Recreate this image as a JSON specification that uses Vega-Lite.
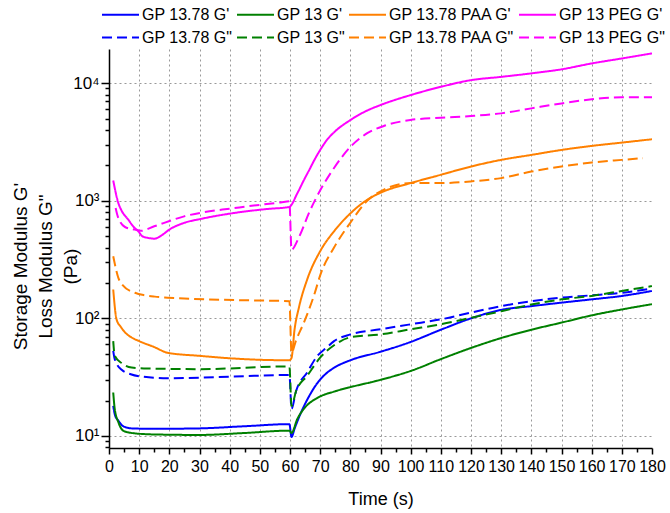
{
  "$schema": "https://vega.github.io/schema/vega-lite/v6.json",
  "autosize": {"type": "none"},
  "padding": {"left": 109, "top": 49, "right": 18, "bottom": 65},
  "width": 543,
  "height": 399,
  "background": "white",
  "config": {
    "font": "Liberation Sans",
    "view": {"stroke": null},
    "axis": {"domainColor": "black", "domainWidth": 1.5, "tickColor": "black", "tickWidth": 1.5, "labelColor": "black", "titleColor": "black", "labelFont": "Liberation Sans", "titleFont": "Liberation Sans", "titleFontWeight": "normal", "gridColor": "#999999", "gridDash": [2, 3], "gridWidth": 1, "labelOverlap": false, "labelFlush": false},
    "legend": {"title": null, "orient": "none", "legendX": 1, "legendY": -45, "columns": 4, "direction": "horizontal", "symbolType": "M-2,0H2", "symbolSize": 342, "symbolStrokeWidth": 2, "symbolFillColor": "transparent", "labelFontSize": 16, "labelLimit": 0, "labelOffset": 11, "columnPadding": 0, "rowPadding": 4, "padding": 0, "labelColor": "black", "labelFont": "Liberation Sans"}
  },
  "data": {"values": [
    {"s": "GP 13.78 G'", "t": 1.4, "v": 18}, {"s": "GP 13.78 G'", "t": 2, "v": 15}, {"s": "GP 13.78 G'", "t": 3.1, "v": 13.5}, {"s": "GP 13.78 G'", "t": 4.7, "v": 12.1}, {"s": "GP 13.78 G'", "t": 7.5, "v": 11.6}, {"s": "GP 13.78 G'", "t": 15, "v": 11.5}, {"s": "GP 13.78 G'", "t": 30, "v": 11.6}, {"s": "GP 13.78 G'", "t": 45, "v": 12.1}, {"s": "GP 13.78 G'", "t": 59.8, "v": 12.6}, {"s": "GP 13.78 G'", "t": 60.5, "v": 9.8}, {"s": "GP 13.78 G'", "t": 61.5, "v": 11.5}, {"s": "GP 13.78 G'", "t": 63.5, "v": 15.5}, {"s": "GP 13.78 G'", "t": 66, "v": 21}, {"s": "GP 13.78 G'", "t": 69, "v": 28}, {"s": "GP 13.78 G'", "t": 72, "v": 34}, {"s": "GP 13.78 G'", "t": 74.6, "v": 38}, {"s": "GP 13.78 G'", "t": 80, "v": 44}, {"s": "GP 13.78 G'", "t": 90, "v": 52}, {"s": "GP 13.78 G'", "t": 100, "v": 63}, {"s": "GP 13.78 G'", "t": 110, "v": 80}, {"s": "GP 13.78 G'", "t": 120, "v": 100}, {"s": "GP 13.78 G'", "t": 130, "v": 118}, {"s": "GP 13.78 G'", "t": 140, "v": 127}, {"s": "GP 13.78 G'", "t": 150, "v": 136}, {"s": "GP 13.78 G'", "t": 160, "v": 145}, {"s": "GP 13.78 G'", "t": 170, "v": 155}, {"s": "GP 13.78 G'", "t": 180, "v": 171},

    {"s": "GP 13 G'", "t": 1.4, "v": 23.4}, {"s": "GP 13 G'", "t": 1.9, "v": 17}, {"s": "GP 13 G'", "t": 3.1, "v": 13.1}, {"s": "GP 13 G'", "t": 4.7, "v": 11.1}, {"s": "GP 13 G'", "t": 7.5, "v": 10.6}, {"s": "GP 13 G'", "t": 15, "v": 10.3}, {"s": "GP 13 G'", "t": 30, "v": 10.2}, {"s": "GP 13 G'", "t": 45, "v": 10.6}, {"s": "GP 13 G'", "t": 59.8, "v": 11.1}, {"s": "GP 13 G'", "t": 60.5, "v": 10.6}, {"s": "GP 13 G'", "t": 62.4, "v": 13.9}, {"s": "GP 13 G'", "t": 65, "v": 17.5}, {"s": "GP 13 G'", "t": 69, "v": 21}, {"s": "GP 13 G'", "t": 75, "v": 24}, {"s": "GP 13 G'", "t": 80, "v": 26}, {"s": "GP 13 G'", "t": 90, "v": 30}, {"s": "GP 13 G'", "t": 100, "v": 35.7}, {"s": "GP 13 G'", "t": 110, "v": 45}, {"s": "GP 13 G'", "t": 120, "v": 56}, {"s": "GP 13 G'", "t": 130, "v": 68}, {"s": "GP 13 G'", "t": 140, "v": 80}, {"s": "GP 13 G'", "t": 150, "v": 92}, {"s": "GP 13 G'", "t": 160, "v": 106}, {"s": "GP 13 G'", "t": 170, "v": 119}, {"s": "GP 13 G'", "t": 180, "v": 132},

    {"s": "GP 13.78 PAA G'", "t": 1.4, "v": 176}, {"s": "GP 13.78 PAA G'", "t": 2.5, "v": 98}, {"s": "GP 13.78 PAA G'", "t": 4, "v": 84}, {"s": "GP 13.78 PAA G'", "t": 5.3, "v": 76}, {"s": "GP 13.78 PAA G'", "t": 7, "v": 70}, {"s": "GP 13.78 PAA G'", "t": 10, "v": 64}, {"s": "GP 13.78 PAA G'", "t": 15, "v": 57}, {"s": "GP 13.78 PAA G'", "t": 19.4, "v": 51}, {"s": "GP 13.78 PAA G'", "t": 30, "v": 48}, {"s": "GP 13.78 PAA G'", "t": 41.5, "v": 45.5}, {"s": "GP 13.78 PAA G'", "t": 59.8, "v": 44}, {"s": "GP 13.78 PAA G'", "t": 60.5, "v": 46}, {"s": "GP 13.78 PAA G'", "t": 61.5, "v": 80}, {"s": "GP 13.78 PAA G'", "t": 63, "v": 125}, {"s": "GP 13.78 PAA G'", "t": 65.7, "v": 214}, {"s": "GP 13.78 PAA G'", "t": 70.2, "v": 380}, {"s": "GP 13.78 PAA G'", "t": 74.6, "v": 550}, {"s": "GP 13.78 PAA G'", "t": 80, "v": 780}, {"s": "GP 13.78 PAA G'", "t": 85.6, "v": 1019}, {"s": "GP 13.78 PAA G'", "t": 91, "v": 1199}, {"s": "GP 13.78 PAA G'", "t": 100, "v": 1413}, {"s": "GP 13.78 PAA G'", "t": 110, "v": 1662}, {"s": "GP 13.78 PAA G'", "t": 120, "v": 1953}, {"s": "GP 13.78 PAA G'", "t": 130, "v": 2225}, {"s": "GP 13.78 PAA G'", "t": 140, "v": 2452}, {"s": "GP 13.78 PAA G'", "t": 150, "v": 2703}, {"s": "GP 13.78 PAA G'", "t": 160, "v": 2924}, {"s": "GP 13.78 PAA G'", "t": 170, "v": 3120}, {"s": "GP 13.78 PAA G'", "t": 180, "v": 3333},

    {"s": "GP 13 PEG G'", "t": 1.4, "v": 1486}, {"s": "GP 13 PEG G'", "t": 3.1, "v": 955}, {"s": "GP 13 PEG G'", "t": 4, "v": 840}, {"s": "GP 13 PEG G'", "t": 6.4, "v": 690}, {"s": "GP 13 PEG G'", "t": 8, "v": 606}, {"s": "GP 13 PEG G'", "t": 9.7, "v": 550}, {"s": "GP 13 PEG G'", "t": 11.1, "v": 498}, {"s": "GP 13 PEG G'", "t": 13, "v": 483}, {"s": "GP 13 PEG G'", "t": 15, "v": 476}, {"s": "GP 13 PEG G'", "t": 16.5, "v": 490}, {"s": "GP 13 PEG G'", "t": 17.8, "v": 515}, {"s": "GP 13 PEG G'", "t": 20, "v": 568}, {"s": "GP 13 PEG G'", "t": 24.9, "v": 648}, {"s": "GP 13 PEG G'", "t": 30.4, "v": 700}, {"s": "GP 13 PEG G'", "t": 41.5, "v": 787}, {"s": "GP 13 PEG G'", "t": 52.5, "v": 851}, {"s": "GP 13 PEG G'", "t": 59.8, "v": 885}, {"s": "GP 13 PEG G'", "t": 60.8, "v": 950}, {"s": "GP 13 PEG G'", "t": 62, "v": 1100}, {"s": "GP 13 PEG G'", "t": 63.1, "v": 1250}, {"s": "GP 13 PEG G'", "t": 64.5, "v": 1480}, {"s": "GP 13 PEG G'", "t": 66.4, "v": 1830}, {"s": "GP 13 PEG G'", "t": 68, "v": 2200}, {"s": "GP 13 PEG G'", "t": 70, "v": 2700}, {"s": "GP 13 PEG G'", "t": 72.5, "v": 3350}, {"s": "GP 13 PEG G'", "t": 75, "v": 3900}, {"s": "GP 13 PEG G'", "t": 80, "v": 4850}, {"s": "GP 13 PEG G'", "t": 85, "v": 5750}, {"s": "GP 13 PEG G'", "t": 90, "v": 6510}, {"s": "GP 13 PEG G'", "t": 100, "v": 7910}, {"s": "GP 13 PEG G'", "t": 110, "v": 9300}, {"s": "GP 13 PEG G'", "t": 120, "v": 10600}, {"s": "GP 13 PEG G'", "t": 130, "v": 11300}, {"s": "GP 13 PEG G'", "t": 140, "v": 12100}, {"s": "GP 13 PEG G'", "t": 150, "v": 13100}, {"s": "GP 13 PEG G'", "t": 160, "v": 14700}, {"s": "GP 13 PEG G'", "t": 170, "v": 16200}, {"s": "GP 13 PEG G'", "t": 180, "v": 17900},

    {"s": "GP 13.78 G\"", "t": 1.4, "v": 53}, {"s": "GP 13.78 G\"", "t": 1.9, "v": 45}, {"s": "GP 13.78 G\"", "t": 4.2, "v": 36.5}, {"s": "GP 13.78 G\"", "t": 7.2, "v": 33.5}, {"s": "GP 13.78 G\"", "t": 10.8, "v": 32}, {"s": "GP 13.78 G\"", "t": 19.4, "v": 31}, {"s": "GP 13.78 G\"", "t": 41.5, "v": 32}, {"s": "GP 13.78 G\"", "t": 59.8, "v": 33}, {"s": "GP 13.78 G\"", "t": 60.5, "v": 17}, {"s": "GP 13.78 G\"", "t": 62, "v": 24}, {"s": "GP 13.78 G\"", "t": 65.7, "v": 34.7}, {"s": "GP 13.78 G\"", "t": 69.1, "v": 48}, {"s": "GP 13.78 G\"", "t": 72, "v": 56}, {"s": "GP 13.78 G\"", "t": 74.6, "v": 64}, {"s": "GP 13.78 G\"", "t": 80, "v": 73}, {"s": "GP 13.78 G\"", "t": 90, "v": 80.7}, {"s": "GP 13.78 G\"", "t": 100, "v": 89}, {"s": "GP 13.78 G\"", "t": 110, "v": 98}, {"s": "GP 13.78 G\"", "t": 120, "v": 112}, {"s": "GP 13.78 G\"", "t": 130, "v": 127}, {"s": "GP 13.78 G\"", "t": 140, "v": 140}, {"s": "GP 13.78 G\"", "t": 150, "v": 150}, {"s": "GP 13.78 G\"", "t": 160, "v": 157}, {"s": "GP 13.78 G\"", "t": 170, "v": 165}, {"s": "GP 13.78 G\"", "t": 180, "v": 179},

    {"s": "GP 13 G\"", "t": 1.4, "v": 64}, {"s": "GP 13 G\"", "t": 1.9, "v": 48}, {"s": "GP 13 G\"", "t": 4.2, "v": 41.6}, {"s": "GP 13 G\"", "t": 7.5, "v": 38.2}, {"s": "GP 13 G\"", "t": 13, "v": 37.5}, {"s": "GP 13 G\"", "t": 30, "v": 37}, {"s": "GP 13 G\"", "t": 59.8, "v": 39}, {"s": "GP 13 G\"", "t": 60.5, "v": 18}, {"s": "GP 13 G\"", "t": 62, "v": 24}, {"s": "GP 13 G\"", "t": 65.7, "v": 32.5}, {"s": "GP 13 G\"", "t": 70.2, "v": 47}, {"s": "GP 13 G\"", "t": 74.6, "v": 59}, {"s": "GP 13 G\"", "t": 80, "v": 69}, {"s": "GP 13 G\"", "t": 90, "v": 73}, {"s": "GP 13 G\"", "t": 100, "v": 80.7}, {"s": "GP 13 G\"", "t": 110, "v": 89}, {"s": "GP 13 G\"", "t": 120, "v": 101}, {"s": "GP 13 G\"", "t": 130, "v": 115}, {"s": "GP 13 G\"", "t": 140, "v": 131}, {"s": "GP 13 G\"", "t": 150, "v": 145}, {"s": "GP 13 G\"", "t": 160, "v": 155}, {"s": "GP 13 G\"", "t": 170, "v": 171}, {"s": "GP 13 G\"", "t": 180, "v": 188},

    {"s": "GP 13.78 PAA G\"", "t": 1.4, "v": 337}, {"s": "GP 13.78 PAA G\"", "t": 3.1, "v": 221}, {"s": "GP 13.78 PAA G\"", "t": 4.6, "v": 191}, {"s": "GP 13.78 PAA G\"", "t": 8.6, "v": 165}, {"s": "GP 13.78 PAA G\"", "t": 11.9, "v": 157}, {"s": "GP 13.78 PAA G\"", "t": 15.2, "v": 153}, {"s": "GP 13.78 PAA G\"", "t": 19.4, "v": 150}, {"s": "GP 13.78 PAA G\"", "t": 41.5, "v": 143}, {"s": "GP 13.78 PAA G\"", "t": 59.8, "v": 140}, {"s": "GP 13.78 PAA G\"", "t": 60.5, "v": 51}, {"s": "GP 13.78 PAA G\"", "t": 62, "v": 65}, {"s": "GP 13.78 PAA G\"", "t": 64.6, "v": 92}, {"s": "GP 13.78 PAA G\"", "t": 67.9, "v": 155}, {"s": "GP 13.78 PAA G\"", "t": 70.2, "v": 240}, {"s": "GP 13.78 PAA G\"", "t": 74.6, "v": 400}, {"s": "GP 13.78 PAA G\"", "t": 80, "v": 650}, {"s": "GP 13.78 PAA G\"", "t": 85.6, "v": 1000}, {"s": "GP 13.78 PAA G\"", "t": 91, "v": 1239}, {"s": "GP 13.78 PAA G\"", "t": 100, "v": 1413}, {"s": "GP 13.78 PAA G\"", "t": 110, "v": 1413}, {"s": "GP 13.78 PAA G\"", "t": 120, "v": 1460}, {"s": "GP 13.78 PAA G\"", "t": 130, "v": 1557}, {"s": "GP 13.78 PAA G\"", "t": 140, "v": 1770}, {"s": "GP 13.78 PAA G\"", "t": 150, "v": 1953}, {"s": "GP 13.78 PAA G\"", "t": 160, "v": 2113}, {"s": "GP 13.78 PAA G\"", "t": 170, "v": 2225}, {"s": "GP 13.78 PAA G\"", "t": 177, "v": 2300},

    {"s": "GP 13 PEG G\"", "t": 2.2, "v": 867}, {"s": "GP 13 PEG G\"", "t": 2.9, "v": 736}, {"s": "GP 13 PEG G\"", "t": 5.3, "v": 598}, {"s": "GP 13 PEG G\"", "t": 8.6, "v": 568}, {"s": "GP 13 PEG G\"", "t": 10.6, "v": 555}, {"s": "GP 13 PEG G\"", "t": 15, "v": 606}, {"s": "GP 13 PEG G\"", "t": 24.9, "v": 736}, {"s": "GP 13 PEG G\"", "t": 41.5, "v": 867}, {"s": "GP 13 PEG G\"", "t": 56.9, "v": 968}, {"s": "GP 13 PEG G\"", "t": 59.8, "v": 990}, {"s": "GP 13 PEG G\"", "t": 60.5, "v": 384}, {"s": "GP 13 PEG G\"", "t": 63.1, "v": 498}, {"s": "GP 13 PEG G\"", "t": 66.4, "v": 800}, {"s": "GP 13 PEG G\"", "t": 70.2, "v": 1250}, {"s": "GP 13 PEG G\"", "t": 74.6, "v": 1900}, {"s": "GP 13 PEG G\"", "t": 80.1, "v": 2884}, {"s": "GP 13 PEG G\"", "t": 85.6, "v": 3750}, {"s": "GP 13 PEG G\"", "t": 91.1, "v": 4320}, {"s": "GP 13 PEG G\"", "t": 99.9, "v": 4860}, {"s": "GP 13 PEG G\"", "t": 110, "v": 5080}, {"s": "GP 13 PEG G\"", "t": 120, "v": 5250}, {"s": "GP 13 PEG G\"", "t": 130, "v": 5530}, {"s": "GP 13 PEG G\"", "t": 140, "v": 6100}, {"s": "GP 13 PEG G\"", "t": 150, "v": 6720}, {"s": "GP 13 PEG G\"", "t": 160, "v": 7280}, {"s": "GP 13 PEG G\"", "t": 170, "v": 7570}, {"s": "GP 13 PEG G\"", "t": 180, "v": 7570}
  ]},
  "mark": {"type": "line", "strokeWidth": 2, "interpolate": "monotone", "clip": true},
  "encoding": {
    "x": {
      "field": "t", "type": "quantitative",
      "scale": {"domain": [0, 180], "nice": false, "zero": false},
      "axis": {
        "title": "Time (s)", "titleFontSize": 18, "titleY": 42, "titleBaseline": "top",
        "values": [0,5,10,15,20,25,30,35,40,45,50,55,60,65,70,75,80,85,90,95,100,105,110,115,120,125,130,135,140,145,150,155,160,165,170,175,180],
        "labelExpr": "datum.value % 10 == 0 ? datum.label : ''",
        "labelFontSize": 16, "labelPadding": 4,
        "tickSize": {"condition": {"test": "datum.value % 10 == 0", "value": 6}, "value": 4},
        "grid": true,
        "gridOpacity": {"condition": {"test": "datum.value % 10 == 0 && datum.value > 0 && datum.value < 180", "value": 1}, "value": 0}
      }
    },
    "y": {
      "field": "v", "type": "quantitative",
      "scale": {"type": "log", "domain": [7.9, 19500], "nice": false},
      "axis": {
        "title": ["Storage Modulus G'", "Loss Modulus G\"", "(Pa)"],
        "titleFontSize": 19, "titleLineHeight": 25, "titleAngle": -90,
        "titleX": -98, "titleY": 217, "titleAlign": "center", "titleBaseline": "top",
        "values": [8,9,10,20,30,40,50,60,70,80,90,100,200,300,400,500,600,700,800,900,1000,2000,3000,4000,5000,6000,7000,8000,9000,10000],
        "labelExpr": "datum.value == 10 ? '10¹' : datum.value == 100 ? '10²' : datum.value == 1000 ? '10³' : datum.value == 10000 ? '10⁴' : ''",
        "labelFontSize": 17, "labelPadding": 2,
        "tickSize": {"condition": {"test": "datum.value == 10 || datum.value == 100 || datum.value == 1000 || datum.value == 10000", "value": 8}, "value": 4},
        "grid": true,
        "gridOpacity": {"condition": {"test": "datum.value == 10 || datum.value == 100 || datum.value == 1000 || datum.value == 10000", "value": 1}, "value": 0}
      }
    },
    "color": {
      "field": "s", "type": "nominal",
      "scale": {
        "domain": ["GP 13.78 G'", "GP 13 G'", "GP 13.78 PAA G'", "GP 13 PEG G'", "GP 13.78 G\"", "GP 13 G\"", "GP 13.78 PAA G\"", "GP 13 PEG G\""],
        "range": ["#0000FF", "#008000", "#FF8000", "#FF00FF", "#0000FF", "#008000", "#FF8000", "#FF00FF"]
      },
      "legend": {}
    },
    "strokeDash": {
      "field": "s", "type": "nominal",
      "scale": {
        "domain": ["GP 13.78 G'", "GP 13 G'", "GP 13.78 PAA G'", "GP 13 PEG G'", "GP 13.78 G\"", "GP 13 G\"", "GP 13.78 PAA G\"", "GP 13 PEG G\""],
        "range": [[1, 0], [1, 0], [1, 0], [1, 0], [10, 5], [10, 5], [10, 5], [10, 5]]
      },
      "legend": {}
    }
  }
}
